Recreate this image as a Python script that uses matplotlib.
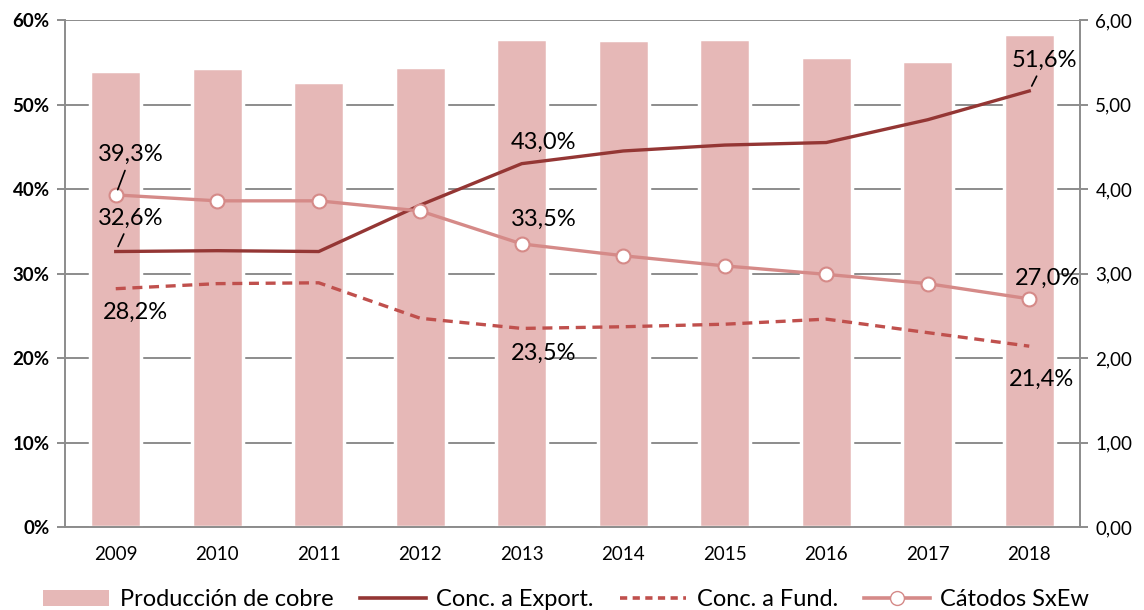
import matplotlib
matplotlib.use("Agg")
import matplotlib.pyplot as plt
from matplotlib.patches import Patch
from matplotlib.lines import Line2D

plt.rcParams['font.family'] = ['Lato', 'DejaVu Sans']

years = ['2009', '2010', '2011', '2012', '2013', '2014', '2015', '2016', '2017', '2018']
produccion = [5.40, 5.43, 5.27, 5.44, 5.78, 5.76, 5.78, 5.56, 5.51, 5.84]
conc_export = [32.6, 32.7, 32.6, 38.1, 43.0, 44.5, 45.2, 45.5, 48.2, 51.6]
conc_fund = [28.2, 28.8, 28.9, 24.7, 23.5, 23.7, 24.0, 24.6, 23.0, 21.4]
catodos = [39.3, 38.6, 38.6, 37.4, 33.5, 32.1, 30.9, 29.9, 28.8, 27.0]

# labels shown on the chart: (series, index, dx, dy, leader line)
labels = [
    (catodos, 0, 11, 29, True),
    (conc_export, 0, 11, 24, True),
    (conc_fund, 0, 14, -17, False),
    (conc_export, 4, 16, 15, False),
    (catodos, 4, 16, 18, False),
    (conc_fund, 4, 16, -18, False),
    (conc_export, 9, 11, 22, True),
    (catodos, 9, 13, 15, False),
    (conc_fund, 9, 9, -24, False),
]

bar_color = '#E6B8B7'
export_color = '#943634'
fund_color = '#C0504D'
cat_color = '#D58A88'
grid_color = '#8C8C8C'

fig = plt.figure(figsize=(11.44, 6.10), dpi=100)
ax2 = fig.add_axes([65 / 1144, 1 - 527 / 610, (1080 - 65) / 1144, (527 - 20) / 610])
ax = ax2.twinx()

x = list(range(len(years)))

# bars on the right axis (0-6)
ax2.bar(x, produccion, width=0.5, color=bar_color, edgecolor='white', linewidth=2.5, zorder=2)
ax2.set_ylim(0, 6)
ax2.set_xlim(-0.5, len(years) - 0.5)
ax2.yaxis.tick_right()
ax2.set_yticks(range(7))
ax2.set_yticklabels([f'{v},00' for v in range(7)], fontsize=13.5)
ax2.grid(axis='y', color=grid_color, linewidth=1.4, zorder=0)
ax2.set_axisbelow(True)

# lines on the left axis (%)
ax.yaxis.tick_left()
ax.set_ylim(0, 60)
ax.set_yticks(range(0, 61, 10))
ax.set_yticklabels([f'{v}%' for v in range(0, 61, 10)], fontsize=13.5, fontweight='bold')
ax.plot(x, conc_export, color=export_color, linewidth=2.4, zorder=3)
ax.plot(x, conc_fund, color=fund_color, linewidth=2.4, linestyle=(0, (3, 2)), zorder=3)
ax.plot(x, catodos, color=cat_color, linewidth=2.4, marker='o', markersize=10,
        markerfacecolor='white', markeredgecolor=cat_color, markeredgewidth=1.5, zorder=4)

ax2.set_xticks(x)
ax2.set_xticklabels(years, fontsize=13.5)
ax2.tick_params(axis='x', length=0, pad=14)

for a in (ax, ax2):
    for s in a.spines.values():
        s.set_visible(False)
ax.spines['left'].set_visible(True)
ax.spines['left'].set_color(grid_color)
ax.spines['left'].set_linewidth(1.4)
ax2.spines['right'].set_visible(True)
ax2.spines['right'].set_color(grid_color)
ax2.spines['right'].set_linewidth(1.4)
ax2.spines['bottom'].set_visible(True)
ax2.spines['bottom'].set_color(grid_color)
ax2.spines['bottom'].set_linewidth(1.4)
ax.tick_params(axis='y', color=grid_color, length=6, width=1.4, pad=5)
ax2.tick_params(axis='y', color=grid_color, length=6, width=1.4, pad=5)

ax.set_zorder(ax2.get_zorder() + 1)
ax.patch.set_visible(False)

for series, i, dx, dy, leader in labels:
    txt = f'{series[i]:.1f}%'.replace('.', ',')
    arrow = dict(arrowstyle='-', color='black', lw=1.2, shrinkA=2, shrinkB=4) if leader else None
    ax.annotate(txt, xy=(i, series[i]), xytext=(dx, dy), textcoords='offset points',
                ha='center', va='center', fontsize=17, arrowprops=arrow, zorder=5)

handles = [
    Patch(facecolor=bar_color, edgecolor='none'),
    Line2D([], [], color=export_color, linewidth=2.6),
    Line2D([], [], color=fund_color, linewidth=2.6, linestyle=(0, (2, 1.5))),
    Line2D([], [], color=cat_color, linewidth=2.6, marker='o', markersize=10,
           markerfacecolor='white', markeredgecolor=cat_color),
]
fig.legend(handles, ['Producción de cobre', 'Conc. a Export.', 'Conc. a Fund.', 'Cátodos SxEw'],
           loc='lower center', bbox_to_anchor=(0.495, -0.035), ncol=4, frameon=False,
           fontsize=17, handlelength=2.8, handletextpad=0.45, columnspacing=1.1)

fig.savefig('out.png', dpi=100)
